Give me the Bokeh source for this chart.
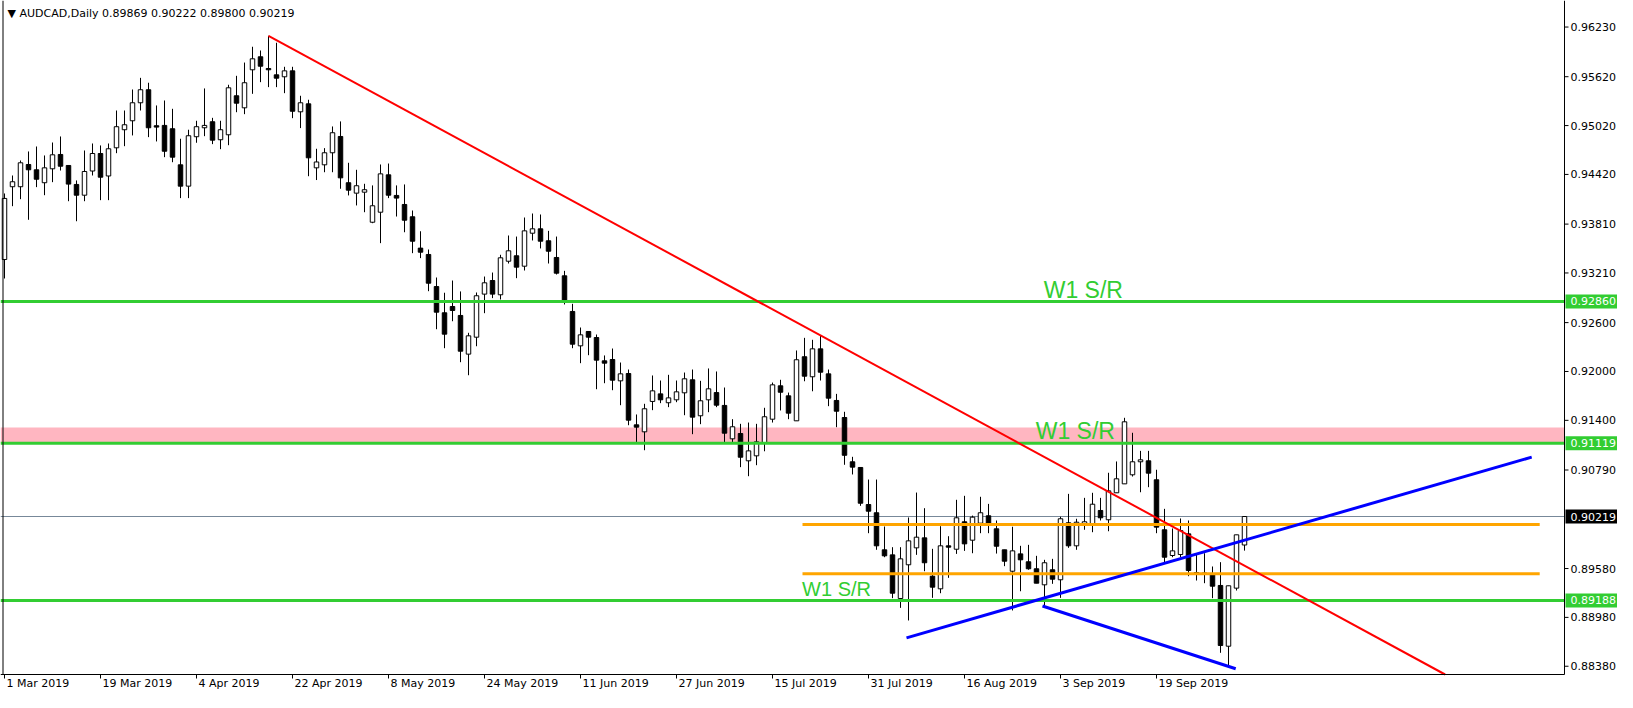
import numpy as np
import pandas as pd
from bokeh.plotting import figure
from bokeh.models import ColumnDataSource, BoxAnnotation, Range1d
from bokeh.core.properties import value
from bokeh.embed import file_html
from bokeh.resources import INLINE

# ---------------- data ----------------
symbol = "AUDCAD,Daily"
dates = pd.bdate_range("2019-03-01", periods=156)

open_ = [0.93375, 0.94269, 0.94269, 0.94542, 0.94477, 0.94318, 0.94489, 0.94665, 0.94530, 0.94297,
         0.94165, 0.94462, 0.94677, 0.94401, 0.94747, 0.94969, 0.95079, 0.95300, 0.95460, 0.95018,
         0.95022, 0.94981, 0.94538, 0.94276, 0.94883, 0.94993, 0.95067, 0.94846, 0.94907, 0.95386,
         0.95238, 0.95705, 0.95865, 0.95721, 0.95643, 0.95619, 0.95692, 0.95189, 0.95287, 0.94501,
         0.94538, 0.94686, 0.94886, 0.94318, 0.94190, 0.94202, 0.93833, 0.93956, 0.94415, 0.94162,
         0.94051, 0.93900, 0.93515, 0.93437, 0.93043, 0.92721, 0.92798, 0.92688, 0.92213, 0.92421,
         0.92950, 0.93117, 0.92942, 0.93354, 0.93421, 0.93293, 0.93698, 0.93752, 0.93605, 0.93400,
         0.93175, 0.92737, 0.92315, 0.92491, 0.92417, 0.92131, 0.92147, 0.91885, 0.91975, 0.91345,
         0.91259, 0.91632, 0.91725, 0.91616, 0.91652, 0.91738, 0.91898, 0.91456, 0.91652, 0.91741,
         0.91583, 0.91173, 0.91238, 0.90903, 0.90964, 0.91124, 0.91414, 0.91824, 0.91701, 0.91394,
         0.92181, 0.91935, 0.92278, 0.91971, 0.91644, 0.91435, 0.90891, 0.90821, 0.90366, 0.90265,
         0.89810, 0.89748, 0.89212, 0.89626, 0.89834, 0.89957, 0.89486, 0.89331, 0.89859, 0.89817,
         0.90154, 0.89928, 0.90137, 0.90228, 0.90068, 0.89810, 0.89547, 0.89760, 0.89663, 0.89577,
         0.89380, 0.89565, 0.89442, 0.90142, 0.89859, 0.90129, 0.90133, 0.90293, 0.90179, 0.90510,
         0.90620, 0.90731, 0.90891, 0.90903, 0.90670, 0.90056, 0.89740, 0.89752, 0.90006, 0.89531,
         0.89513, 0.89515, 0.89372, 0.88626, 0.89339, 0.89869]

high = [0.94186, 0.94407, 0.94591, 0.94702, 0.94763, 0.94653, 0.94812, 0.94886, 0.94530, 0.94346,
        0.94714, 0.94800, 0.94776, 0.94800, 0.95205, 0.95205, 0.95463, 0.95606, 0.95546, 0.95267,
        0.95328, 0.95226, 0.94858, 0.94969, 0.95079, 0.95476, 0.95115, 0.95079, 0.95521, 0.95631,
        0.95794, 0.95988, 0.95942, 0.96123, 0.96037, 0.95742, 0.95742, 0.95386, 0.95337, 0.94735,
        0.94743, 0.95009, 0.95071, 0.94563, 0.94477, 0.94305, 0.94285, 0.94542, 0.94554, 0.94285,
        0.94297, 0.93977, 0.93722, 0.93498, 0.93154, 0.92967, 0.93117, 0.92983, 0.92475, 0.92970,
        0.93166, 0.93215, 0.93433, 0.93670, 0.93657, 0.93891, 0.93940, 0.93928, 0.93727, 0.93657,
        0.93236, 0.92831, 0.92540, 0.92491, 0.92454, 0.92197, 0.92282, 0.92110, 0.92024, 0.91472,
        0.91603, 0.91951, 0.91889, 0.91959, 0.91889, 0.91987, 0.92024, 0.91885, 0.92037, 0.92000,
        0.91803, 0.91414, 0.91357, 0.91373, 0.91357, 0.91554, 0.91864, 0.91898, 0.91741, 0.92258,
        0.92413, 0.92389, 0.92442, 0.92024, 0.91725, 0.91505, 0.90952, 0.90821, 0.90673, 0.90673,
        0.90096, 0.89842, 0.89842, 0.90207, 0.90513, 0.90321, 0.89822, 0.90100, 0.89977, 0.90424,
        0.90473, 0.90230, 0.90461, 0.90374, 0.90170, 0.89810, 0.90093, 0.89859, 0.89871, 0.89736,
        0.89687, 0.89699, 0.90216, 0.90497, 0.90191, 0.90448, 0.90510, 0.90448, 0.90756, 0.90895,
        0.91431, 0.91247, 0.91025, 0.91025, 0.90793, 0.90313, 0.90072, 0.90195, 0.90170, 0.89768,
        0.89768, 0.89605, 0.89658, 0.89368, 0.89994, 0.90222]

low = [0.93142, 0.94030, 0.94116, 0.93863, 0.94264, 0.94165, 0.94325, 0.94468, 0.94091, 0.93845,
       0.94091, 0.94407, 0.94104, 0.94104, 0.94681, 0.94767, 0.94899, 0.95205, 0.94878, 0.94825,
       0.94632, 0.94570, 0.94129, 0.94129, 0.94809, 0.94890, 0.94792, 0.94730, 0.94779, 0.95184,
       0.95160, 0.95410, 0.95553, 0.95492, 0.95492, 0.95418, 0.95111, 0.94989, 0.94398, 0.94351,
       0.94447, 0.94447, 0.94244, 0.94162, 0.94039, 0.93956, 0.93821, 0.93576, 0.94129, 0.93903,
       0.93710, 0.93453, 0.93392, 0.92986, 0.92519, 0.92286, 0.92617, 0.92114, 0.91954, 0.92310,
       0.92716, 0.92901, 0.92884, 0.93326, 0.93146, 0.93240, 0.93609, 0.93511, 0.93326, 0.93191,
       0.92823, 0.92286, 0.92102, 0.92200, 0.91782, 0.91856, 0.91770, 0.91586, 0.91340, 0.91124,
       0.91033, 0.91525, 0.91611, 0.91562, 0.91623, 0.91463, 0.91230, 0.91353, 0.91500, 0.91562,
       0.91127, 0.91131, 0.90825, 0.90714, 0.90849, 0.91020, 0.91373, 0.91521, 0.91414, 0.91394,
       0.91880, 0.91757, 0.91889, 0.91574, 0.91316, 0.90854, 0.90735, 0.90350, 0.90014, 0.89810,
       0.89719, 0.89216, 0.89097, 0.88942, 0.89748, 0.89547, 0.89220, 0.89277, 0.89466, 0.89760,
       0.89797, 0.89768, 0.90014, 0.90014, 0.89764, 0.89609, 0.89065, 0.89301, 0.89565, 0.89400,
       0.89105, 0.89392, 0.89220, 0.89834, 0.89810, 0.90056, 0.90026, 0.90170, 0.90038, 0.90510,
       0.90620, 0.90710, 0.90517, 0.90579, 0.90014, 0.89646, 0.89719, 0.89719, 0.89486, 0.89433,
       0.89400, 0.89216, 0.88545, 0.88381, 0.89310, 0.89800]

close = [0.94125, 0.94330, 0.94563, 0.94477, 0.94361, 0.94501, 0.94661, 0.94521, 0.94301, 0.94165,
         0.94456, 0.94677, 0.94386, 0.94735, 0.95006, 0.95030, 0.95300, 0.95460, 0.94993, 0.95001,
         0.94705, 0.94632, 0.94276, 0.94895, 0.95006, 0.95022, 0.94841, 0.94969, 0.95484, 0.95295,
         0.95546, 0.95840, 0.95749, 0.95705, 0.95602, 0.95692, 0.95196, 0.95300, 0.94624, 0.94573,
         0.94686, 0.94932, 0.94378, 0.94227, 0.94281, 0.94232, 0.94035, 0.94427, 0.94165, 0.94129,
         0.93858, 0.93600, 0.93465, 0.93084, 0.92728, 0.92458, 0.92749, 0.92249, 0.92438, 0.92930,
         0.93089, 0.92950, 0.93396, 0.93482, 0.93281, 0.93727, 0.93752, 0.93600, 0.93477, 0.93207,
         0.92872, 0.92335, 0.92450, 0.92421, 0.92139, 0.92102, 0.91893, 0.91971, 0.91402, 0.91316,
         0.91542, 0.91762, 0.91652, 0.91676, 0.91750, 0.91910, 0.91439, 0.91640, 0.91787, 0.91586,
         0.91242, 0.91321, 0.90947, 0.91025, 0.91136, 0.91444, 0.91836, 0.91745, 0.91488, 0.92144,
         0.91942, 0.92278, 0.91991, 0.91672, 0.91512, 0.90971, 0.90825, 0.90382, 0.90284, 0.89859,
         0.89736, 0.89277, 0.89699, 0.89920, 0.89965, 0.89651, 0.89351, 0.89859, 0.89842, 0.90203,
         0.89883, 0.90211, 0.90265, 0.90137, 0.89854, 0.89670, 0.89797, 0.89687, 0.89577, 0.89400,
         0.89651, 0.89449, 0.90191, 0.89859, 0.90149, 0.90154, 0.90370, 0.90203, 0.90534, 0.90682,
         0.91382, 0.90891, 0.90915, 0.90751, 0.90088, 0.89719, 0.89797, 0.90047, 0.89556, 0.89507,
         0.89525, 0.89363, 0.88635, 0.89368, 0.89994, 0.90219]

tick_labels = ["1 Mar 2019", "19 Mar 2019", "4 Apr 2019", "22 Apr 2019", "8 May 2019",
               "24 May 2019", "11 Jun 2019", "27 Jun 2019", "15 Jul 2019", "31 Jul 2019",
               "16 Aug 2019", "3 Sep 2019", "19 Sep 2019"]
price_ticks = [0.96230, 0.95620, 0.95020, 0.94420, 0.93810, 0.93210, 0.92600, 0.92000,
               0.91400, 0.90790, 0.89580, 0.88980, 0.88380]

sr_levels = [0.92860, 0.91119, 0.89188]          # green W1 S/R lines
sr_zone = [0.91119, 0.91312]                      # pink zone
orange_levels = [0.90121, 0.89515]
orange_bars = [99.75, 191.9]
red_trend_bars = [33.0, 182.6]
red_trend_prices = [0.96123, 0.88144]
blue_up_bars = [112.75, 190.9]
blue_up_prices = [0.88729, 0.90948]
blue_dn_bars = [129.75, 153.9]
blue_dn_prices = [0.89120, 0.88349]
sr_label_text = ["W1 S/R", "W1 S/R", "W1 S/R"]
sr_label_bars = [129.9, 128.9, 99.7]
sr_label_prices = [0.93001, 0.91265, 0.89325]     # vertical centre of each label

# ---------------- layout constants (pixels) ----------------
FONT = "DejaVu Sans"
GREEN = "#32CD32"
FIG_W, FIG_H = 1617, 692
BPP = 1.0 / 8.0                       # bars per pixel
X0 = -0.5                             # bar at the figure's left edge
X1 = X0 + 1564 * BPP                  # right edge of the chart window
PPP = 0.00012281                      # price per pixel
Y_TOP = 0.96556                       # price at the figure's top edge
Y_BOT = Y_TOP - 674 * PPP             # bottom edge of the chart window
SR_LABEL_SIZES = ["23px", "23px", "20px"]

o = np.array(open_)
h = np.array(high)
l = np.array(low)
c = np.array(close)
x = np.arange(len(o))
up = c >= o
src = ColumnDataSource(dict(x=x, high=h, low=l,
                            top=np.maximum(o, c), bottom=np.minimum(o, c),
                            fill=np.where(up, "white", "black")))

p = figure(width=FIG_W, height=FIG_H, output_backend="svg", toolbar_location=None,
           x_range=Range1d(X0, X0 + FIG_W * BPP), y_range=Range1d(Y_TOP - FIG_H * PPP, Y_TOP),
           x_axis_location=None, y_axis_location=None,
           min_border_left=0, min_border_top=0, min_border_right=0, min_border_bottom=0,
           background_fill_color="white", border_fill_color="white")
p.grid.visible = False
p.outline_line_color = None

# pink zone (background)
p.add_layout(BoxAnnotation(left=X0, right=X1, bottom=sr_zone[0], top=sr_zone[1],
                           fill_color="#FFB6C1", fill_alpha=1.0, line_alpha=0, level="underlay"))
# bid line
bid = c[-1]
p.line([X0, X1], [bid, bid], line_color="#778899", line_width=1)

# candles
p.segment("x", "high", "x", "low", source=src, line_color="black", line_width=1)
p.vbar(x="x", width=0.56, top="top", bottom="bottom", source=src,
       fill_color="fill", line_color="black", line_width=1)

# horizontal S/R lines
for lvl in sr_levels:
    p.line([X0, X1], [lvl, lvl], line_color=GREEN, line_width=3)
for lvl in orange_levels:
    p.line(orange_bars, [lvl, lvl], line_color="#FFA500", line_width=3)

# trend lines (the red ray stops at the bottom of the chart window)
rx0, rx1 = red_trend_bars
ry0, ry1 = red_trend_prices
t = min(1.0, (ry0 - Y_BOT) / (ry0 - ry1))
p.line([rx0, rx0 + t * (rx1 - rx0)], [ry0, ry0 + t * (ry1 - ry0)], line_color="red", line_width=2)
p.line(blue_up_bars, blue_up_prices, line_color="blue", line_width=3)
p.line(blue_dn_bars, blue_dn_prices, line_color="blue", line_width=3)

# W1 S/R labels
lbl_src = ColumnDataSource(dict(x=sr_label_bars, y=sr_label_prices, text=sr_label_text,
                                size=SR_LABEL_SIZES))
p.text(x="x", y="y", text="text", source=lbl_src,
       text_font=value("Liberation Sans"), text_font_size="size", text_color=GREEN,
       text_align="left", text_baseline="middle")

# header
hdr = "\u25BC {}  {:.5f} {:.5f} {:.5f} {:.5f}".format(symbol, o[-1], h[-1], l[-1], c[-1])
p.text(x=[X0 + 7 * BPP], y=[Y_TOP - 12.5 * PPP], text=[hdr], text_font=value(FONT),
       text_font_size="11px", text_color="black", text_align="left",
       text_baseline="middle")

# chart window frame
p.line([X1, X1], [Y_BOT, Y_TOP], line_color="black", line_width=1)
p.line([X0, X1], [Y_BOT, Y_BOT], line_color="black", line_width=1)
p.line([X0 + 2.5 * BPP] * 2, [Y_BOT, Y_TOP], line_color="black", line_width=1)

# price scale (right)
k = len(price_ticks)
p.segment(x0=[X1] * k, y0=price_ticks, x1=[X1 + 4 * BPP] * k, y1=price_ticks,
          line_color="black", line_width=1)
p.text(x=[X1] * k, y=price_ticks, text=["{:.5f}".format(v) for v in price_ticks],
       x_offset=6, text_font=value(FONT), text_font_size="11px", text_color="black",
       text_align="left", text_baseline="middle")

# colored price tags
tag_prices = sr_levels + [bid]
tag_colors = [GREEN, GREEN, GREEN, "black"]
p.rect(x=[X1 + 27 * BPP] * 4, y=tag_prices, width=52, height=14,
       width_units="screen", height_units="screen",
       fill_color=tag_colors, line_color=None)
p.text(x=[X1] * 4, y=tag_prices, text=["{:.5f}".format(v) for v in tag_prices],
       x_offset=6, text_font=value(FONT), text_font_size="11px", text_color="white",
       text_align="left", text_baseline="middle")

# date scale (bottom)
tick_pos = [int(dates.get_loc(pd.Timestamp(s))) for s in tick_labels]
n = len(tick_pos)
p.segment(x0=tick_pos, y0=[Y_BOT] * n, x1=tick_pos, y1=[Y_BOT - 4 * PPP] * n,
          line_color="black", line_width=1)
p.text(x=tick_pos, y=[Y_BOT - 9 * PPP] * n, text=tick_labels, x_offset=2,
       text_font=value(FONT), text_font_size="11px", text_color="black",
       text_align="left", text_baseline="middle")

open("out.html", "w").write(file_html(p, INLINE))
